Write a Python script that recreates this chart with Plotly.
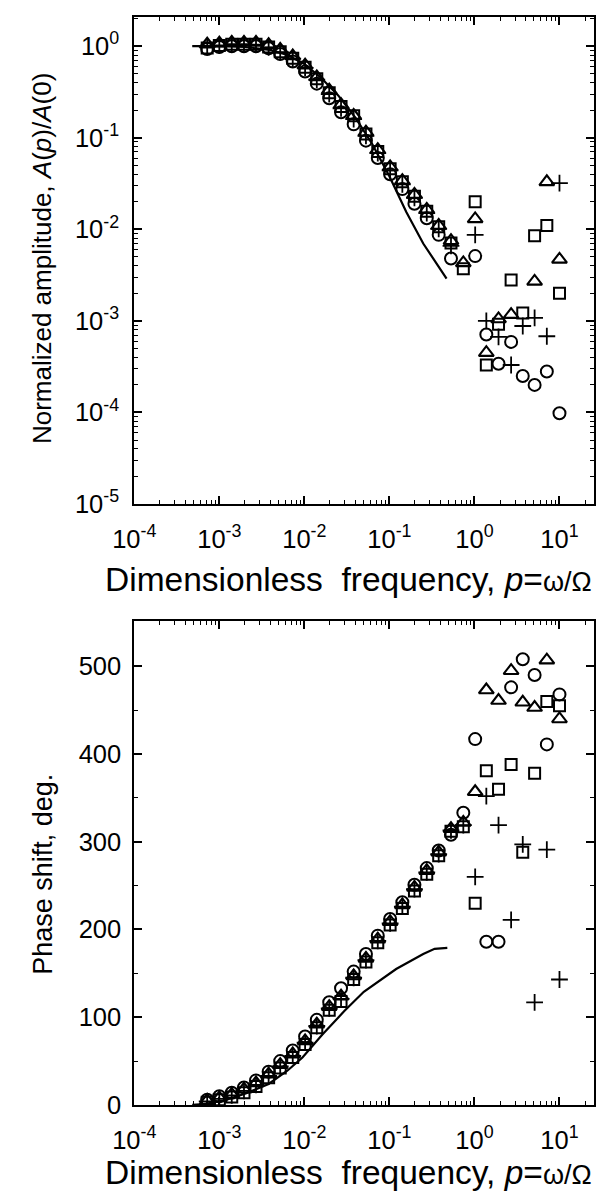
import plotly.graph_objects as go

# ---------------- data ----------------
freq = [7.2e-4, 1.0e-3, 1.4e-3, 1.95e-3, 2.7e-3, 3.8e-3, 5.2e-3, 7.3e-3, 1.02e-2, 1.4e-2,
        1.96e-2, 2.7e-2, 3.8e-2, 5.3e-2, 7.3e-2, 0.102, 0.142, 0.197, 0.275, 0.38,
        0.53, 0.74, 1.02, 1.38, 1.92, 2.7, 3.7, 5.1, 7.1, 10.0]

amp_circle = [0.93, 0.98, 1.0, 1.0, 1.0, 0.95, 0.82, 0.68, 0.53, 0.39,
              0.27, 0.19, 0.14, 0.093, 0.060, 0.040, 0.0275, 0.019, 0.0132, 0.0087,
              0.0048, None, 0.0051, 0.00071, 0.00034, 0.00059, 0.00025, 0.00020, 0.00028, 0.000098]
amp_square = [0.955, 1.02, 1.05, 1.05, 1.05, 0.98, 0.87, 0.74, 0.59, 0.44,
              0.31, 0.22, 0.174, 0.110, 0.071, 0.046, 0.033, 0.023, 0.0158, 0.0107,
              0.0071, 0.0037, 0.020, 0.00033, 0.00092, 0.0028, 0.00122, 0.0085, 0.011, 0.0020]
amp_triangle = [1.05, 1.08, 1.10, 1.10, 1.10, 1.04, 0.92, 0.78, 0.62, 0.46,
                0.33, 0.23, 0.175, 0.115, 0.074, 0.048, 0.034, 0.024, 0.0165, 0.011,
                0.0075, 0.0043, 0.013, 0.00045, 0.00105, 0.00117, None, 0.0027, 0.033, 0.0047]
amp_plus = [0.99, 1.02, 1.05, 1.05, 1.04, 0.97, 0.86, 0.73, 0.58, 0.43,
            0.30, 0.21, 0.16, 0.105, 0.068, 0.044, 0.031, 0.022, 0.0150, 0.0101,
            0.0066, None, 0.0087, 0.00100, 0.00067, 0.00033, 0.00088, 0.00108, 0.00068, 0.032]

amp_line_x = [4.8e-4, 1e-3, 2e-3, 4e-3, 6.3e-3, 1e-2, 1.58e-2, 2.5e-2, 4e-2, 6.3e-2, 0.1, 0.158, 0.25, 0.47]
amp_line_y = [1.0, 1.0, 0.98, 0.91, 0.80, 0.64, 0.45, 0.29, 0.165, 0.085, 0.038, 0.0155, 0.0070, 0.0029]

ph_circle = [6, 10, 14, 20, 28, 38, 50, 62, 78, 97,
             117, 133, 152, 172, 193, 212, 231, 251, 270, 290,
             308, 333, 417, 186, 186, 476, 508, 490, 411, 468]
ph_square = [3, 6, 9, 14, 21, 31, 42, 54, 69, 88,
             108, 118, 143, 163, 185, 205, 224, 244, 263, 284,
             312, 317, 230, 381, 360, 388, 288, 378, 460, 455]
ph_triangle = [5, 8, 12, 18, 25, 35, 46, 58, 73, 92,
               112, 124, 147, 167, 189, 209, 228, 248, 267, 288,
               315, 322, 357, 473, 461, 495, 459, 453, 507, 440]
ph_plus = [4, 7, 11, 16, 23, 33, 44, 56, 71, 90,
           110, 121, 145, 165, 187, 207, 226, 246, 265, 286,
           313, 319, 260, 352, 319, 211, 297, 117, 291, 143]

ph_line_x = [4.8e-4, 6.6e-4, 1.12e-3, 2.04e-3, 3.8e-3, 6.3e-3, 9.5e-3, 1.62e-2, 2.95e-2, 5.0e-2, 0.12, 0.25, 0.34, 0.48]
ph_line_y = [0, 1, 5, 13, 24, 39, 54, 80, 107, 129, 155, 172, 178, 179]

x_tickvals = [1e-4, 1e-3, 1e-2, 1e-1, 1e0, 1e1]
x_ticktext = ["10<sup>-4</sup>", "10<sup>-3</sup>", "10<sup>-2</sup>", "10<sup>-1</sup>",
              "10<sup>0</sup>", "10<sup>1</sup>"]
amp_tickvals = [1e-5, 1e-4, 1e-3, 1e-2, 1e-1, 1e0]
amp_ticktext = ["10<sup>-5</sup>", "10<sup>-4</sup>", "10<sup>-3</sup>", "10<sup>-2</sup>",
                "10<sup>-1</sup>", "10<sup>0</sup>"]
ph_tickvals = [0, 100, 200, 300, 400, 500]

# ---------------- figure ----------------
W, H = 596, 1201
FONT = "Liberation Sans, Arial, Helvetica, sans-serif"

fig = go.Figure()

marker_styles = {
    "circle": dict(symbol="circle-open", size=12, line=dict(width=2.0, color="black"), color="black"),
    "square": dict(symbol="square-open", size=11, line=dict(width=2.0, color="black"), color="black"),
    "triangle": dict(symbol="triangle-up-open", size=13, line=dict(width=2.1, color="black"), color="black"),
    "plus": dict(symbol="cross-thin-open", size=12, line=dict(width=1.8, color="black"), color="black"),
}

series_top = [("circle", amp_circle), ("square", amp_square), ("triangle", amp_triangle), ("plus", amp_plus)]
series_bot = [("circle", ph_circle), ("square", ph_square), ("triangle", ph_triangle), ("plus", ph_plus)]

fig.add_trace(go.Scatter(x=amp_line_x, y=amp_line_y, mode="lines",
                         line=dict(color="black", width=2.2), xaxis="x", yaxis="y", showlegend=False))
for name, vals in series_top:
    fig.add_trace(go.Scatter(x=freq, y=vals, mode="markers", marker=marker_styles[name],
                             xaxis="x", yaxis="y", showlegend=False))

fig.add_trace(go.Scatter(x=ph_line_x, y=ph_line_y, mode="lines",
                         line=dict(color="black", width=2.2), xaxis="x2", yaxis="y2", showlegend=False))
for name, vals in series_bot:
    fig.add_trace(go.Scatter(x=freq, y=vals, mode="markers", marker=marker_styles[name],
                             xaxis="x2", yaxis="y2", showlegend=False))

xl = 117 / W
top_dom = [1 - 510 / H, 1 - 16.7 / H]
bot_dom = [1 - 1118 / H, 1 - 628 / H]

minor_log_vals = [m * 10 ** e for e in range(-5, 2) for m in range(2, 10)]

common_axis = dict(showline=True, linecolor="black", linewidth=2, mirror="allticks",
                   ticks="inside", ticklen=8, tickwidth=1.5, tickcolor="black",
                   showgrid=False, zeroline=False,
                   tickfont=dict(family=FONT, size=25.5, color="black"))

minor_log = dict(tickmode="array", tickvals=minor_log_vals, ticks="inside", ticklen=4,
                 tickwidth=1.2, tickcolor="black", showgrid=False)

fig.update_layout(
    width=W, height=H,
    margin=dict(l=0, r=0, t=0, b=0),
    paper_bgcolor="white", plot_bgcolor="white",
    font=dict(family=FONT, color="black"),
    xaxis=dict(domain=[xl, 1], type="log", range=[-4, 1.406], anchor="y",
               tickmode="array", tickvals=x_tickvals, ticktext=x_ticktext,
               minor=minor_log, ticklabelstandoff=11, **common_axis),
    yaxis=dict(domain=top_dom, type="log", range=[-5, 0.324], anchor="x",
               tickmode="array", tickvals=amp_tickvals, ticktext=amp_ticktext,
               minor=minor_log, ticklabelstandoff=8, **common_axis),
    xaxis2=dict(domain=[xl, 1], type="log", range=[-4, 1.406], anchor="y2",
                tickmode="array", tickvals=x_tickvals, ticktext=x_ticktext,
                minor=minor_log, ticklabelstandoff=11, **common_axis),
    yaxis2=dict(domain=bot_dom, range=[0, 552], anchor="x2",
                tickmode="array", tickvals=ph_tickvals,
                minor=dict(tickmode="array", tickvals=[50, 150, 250, 350, 450], ticks="inside",
                           ticklen=4, tickwidth=1.2, tickcolor="black", showgrid=False),
                ticklabelstandoff=6, **common_axis),
)

xtitle = "Dimensionless  frequency, <i>p</i>=<span style='font-size:27px'>ω/Ω</span>"
fig.add_annotation(text=xtitle, x=(95 + 586) / 2 / W, y=1 - 586 / H, xref="paper", yref="paper",
                   showarrow=False, xanchor="center", yanchor="middle",
                   font=dict(family=FONT, size=33.5, color="black"))
fig.add_annotation(text=xtitle, x=(95 + 586) / 2 / W, y=1 - 1186 / H, xref="paper", yref="paper",
                   showarrow=False, xanchor="center", yanchor="middle",
                   font=dict(family=FONT, size=33.5, color="black"))
fig.add_annotation(text="Normalized amplitude, <i>A</i>(<i>p</i>)/<i>A</i>(0)", x=21 / W, y=1 - 262 / H,
                   xref="paper", yref="paper", showarrow=False, textangle=-90,
                   xanchor="center", yanchor="middle",
                   font=dict(family=FONT, size=26, color="black"))
fig.add_annotation(text="Phase shift, deg.", x=22 / W, y=1 - 885 / H,
                   xref="paper", yref="paper", showarrow=False, textangle=-90,
                   xanchor="center", yanchor="middle",
                   font=dict(family=FONT, size=27, color="black"))

fig.write_html("out.html")
